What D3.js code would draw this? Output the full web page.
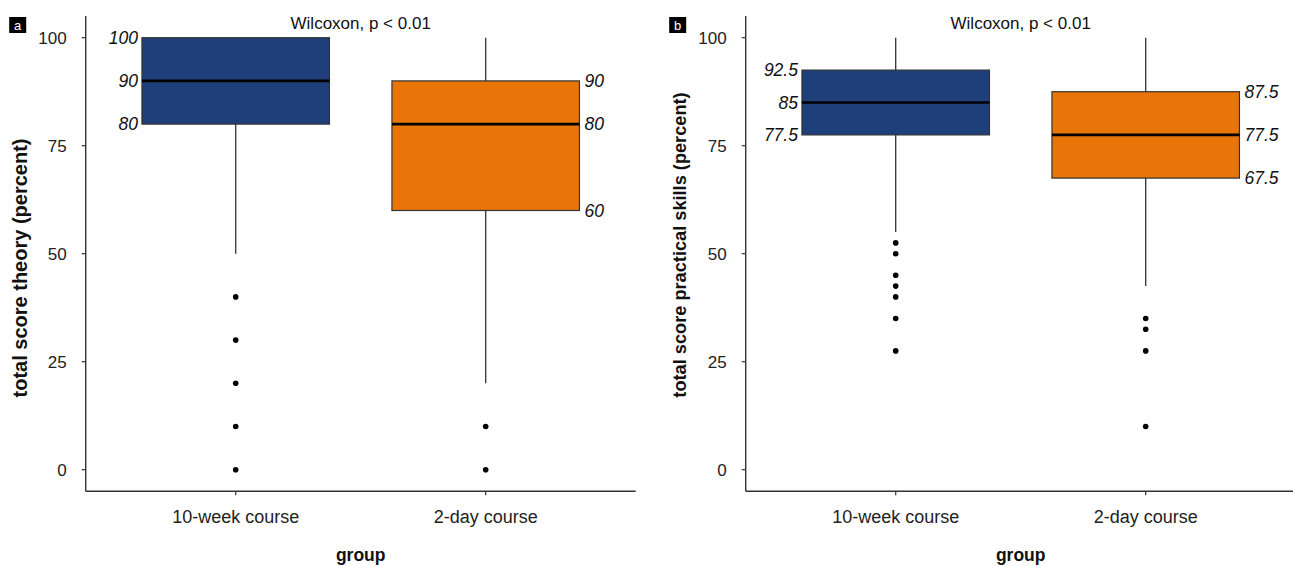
<!DOCTYPE html>
<html>
<head>
<meta charset="utf-8">
<script src="https://cdn.jsdelivr.net/npm/d3@7"></script>
<style>
  html, body { margin: 0; padding: 0; background: #fff; }
  svg { display: block; font-family: "Liberation Sans", Arial, sans-serif; }
</style>
</head>
<body>
<svg id="chart" width="1293" height="566"></svg>
<script>
// Groups on the x axis
const groups = ['10-week course', '2-day course'];

// Box stats per group: [lower whisker, q1, median, q3, upper whisker]
const theoryStats = [[50, 80, 90, 100, 100], [20, 60, 80, 90, 100]];
const theoryOutliers = [[40, 30, 20, 10, 0], [10, 0]];

const skillsStats = [[55, 77.5, 85, 92.5, 100], [42.5, 67.5, 77.5, 87.5, 100]];
const skillsOutliers = [[52.5, 50, 45, 42.5, 40, 35, 27.5], [35, 32.5, 27.5, 10]];

const yTicks = [0, 25, 50, 75, 100];
const testLabel = 'Wilcoxon, p < 0.01';

const FILLS = ['#1e3f7a', '#e97508'];
const AXIS = '#333';

const svg = d3.select('#chart');

const y = d3.scaleLinear().domain([-5, 105]).range([491.3, 16.1]);

function drawPanel(opts) {
  const { left, right, stats, outliers, tag, yTitle, titleY, titleSize } = opts;
  const g = svg.append('g');

  const x = d3.scalePoint().domain(groups).range([left, right]).padding(0.6);
  const boxW = x.step() * 0.75;
  const bottom = y(-5);

  // axes lines
  g.append('line').attr('x1', left).attr('x2', left).attr('y1', y(105)).attr('y2', bottom)
    .attr('stroke', AXIS).attr('stroke-width', 1.4);
  g.append('line').attr('x1', left).attr('x2', right).attr('y1', bottom).attr('y2', bottom)
    .attr('stroke', AXIS).attr('stroke-width', 1.4);

  // y ticks
  yTicks.forEach(v => {
    g.append('line').attr('x1', left - 4).attr('x2', left).attr('y1', y(v)).attr('y2', y(v))
      .attr('stroke', AXIS).attr('stroke-width', 1.2);
    g.append('text').attr('x', left - 19).attr('y', y(v) + 6)
      .attr('text-anchor', 'end').attr('font-size', 17).attr('fill', '#222')
      .text(v);
  });

  // x ticks + labels
  groups.forEach(gr => {
    g.append('line').attr('x1', x(gr)).attr('x2', x(gr)).attr('y1', bottom).attr('y2', bottom + 4)
      .attr('stroke', AXIS).attr('stroke-width', 1.2);
    g.append('text').attr('x', x(gr)).attr('y', 523)
      .attr('text-anchor', 'middle').attr('font-size', 18).attr('fill', '#222')
      .text(gr);
  });

  // boxes
  groups.forEach((gr, i) => {
    const [lo, q1, med, q3, hi] = stats[i];
    const cx = x(gr);
    // whiskers
    g.append('line').attr('x1', cx).attr('x2', cx).attr('y1', y(q3)).attr('y2', y(hi))
      .attr('stroke', AXIS).attr('stroke-width', 1.3);
    g.append('line').attr('x1', cx).attr('x2', cx).attr('y1', y(q1)).attr('y2', y(lo))
      .attr('stroke', AXIS).attr('stroke-width', 1.3);
    g.append('rect')
      .attr('x', cx - boxW / 2).attr('y', y(q3))
      .attr('width', boxW).attr('height', y(q1) - y(q3))
      .attr('fill', FILLS[i]).attr('stroke', AXIS).attr('stroke-width', 1.2);
    g.append('line').attr('x1', cx - boxW / 2).attr('x2', cx + boxW / 2)
      .attr('y1', y(med)).attr('y2', y(med))
      .attr('stroke', '#000').attr('stroke-width', 2.7);

    // outliers
    outliers[i].forEach(v => {
      g.append('circle').attr('cx', cx).attr('cy', y(v)).attr('r', 2.8).attr('fill', '#000');
    });

    // italic quartile labels, first box on the left, second on the right
    const onLeft = i === 0;
    [q3, med, q1].forEach(v => {
      g.append('text')
        .attr('x', onLeft ? cx - boxW / 2 - 4 : cx + boxW / 2 + 5)
        .attr('y', y(v) + 6)
        .attr('text-anchor', onLeft ? 'end' : 'start')
        .attr('font-size', 17.5).attr('font-style', 'italic').attr('fill', '#111')
        .text(v);
    });
  });

  // test label
  g.append('text').attr('x', (left + right) / 2).attr('y', 29)
    .attr('text-anchor', 'middle').attr('font-size', 17).attr('fill', '#111')
    .text(testLabel);

  // axis titles
  g.append('text').attr('x', (left + right) / 2).attr('y', 561)
    .attr('text-anchor', 'middle').attr('font-size', 17.5).attr('font-weight', 'bold')
    .attr('fill', '#111').text('group');
  g.append('text')
    .attr('transform', `translate(${left - 66},${titleY}) rotate(-90)`)
    .attr('text-anchor', 'middle').attr('dominant-baseline', 'central')
    .attr('font-size', titleSize).attr('font-weight', 'bold').attr('fill', '#111')
    .text(yTitle);

  // panel tag
  const tx = left - 76.5;
  g.append('rect').attr('x', tx).attr('y', 17).attr('width', 17).attr('height', 16).attr('fill', '#000');
  g.append('text').attr('x', tx + 8.5).attr('y', 29.5)
    .attr('text-anchor', 'middle').attr('font-size', 13).attr('fill', '#fff')
    .text(tag);
}

drawPanel({
  left: 85.7, right: 635.7, stats: theoryStats, outliers: theoryOutliers,
  tag: 'a', yTitle: 'total score theory (percent)', titleY: 268, titleSize: 20
});
drawPanel({
  left: 745.7, right: 1295.7, stats: skillsStats, outliers: skillsOutliers,
  tag: 'b', yTitle: 'total score practical skills (percent)', titleY: 245, titleSize: 18.2
});
</script>
</body>
</html>
